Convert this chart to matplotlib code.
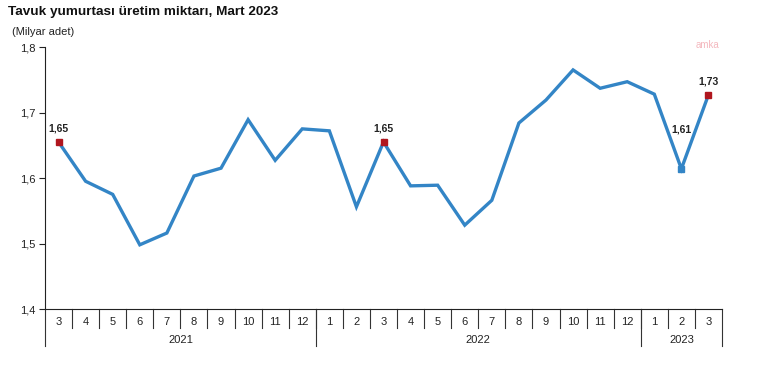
import matplotlib
matplotlib.use('Agg')
import matplotlib.pyplot as plt
import matplotlib.transforms as mtransforms
import numpy as np

plt.rcParams['font.family'] = ['Liberation Sans', 'DejaVu Sans']

months = ['3', '4', '5', '6', '7', '8', '9', '10', '11', '12',
          '1', '2', '3', '4', '5', '6', '7', '8', '9', '10', '11', '12',
          '1', '2', '3']
years = ['2021', '2022', '2023']
year_counts = [10, 12, 3]
production = [1.655, 1.595, 1.575, 1.498, 1.516, 1.603, 1.615, 1.689, 1.627, 1.675,
              1.672, 1.556, 1.655, 1.588, 1.589, 1.528, 1.566, 1.684, 1.719, 1.765,
              1.737, 1.747, 1.728, 1.614, 1.727]
# labelled points: index, text
labelled = [(0, '1,65'), (12, '1,65'), (23, '1,61'), (24, '1,73')]

line_color = '#3385C6'
red = '#B0161E'

fig = plt.figure(figsize=(7.67, 3.66), dpi=100)
ax = fig.add_axes([45/767, 1-309/366, (722-45)/767, (309-47)/366])

x = np.arange(len(months))
ax.plot(x, production, color=line_color, lw=2.4, zorder=2, solid_joinstyle='miter')

for i, txt in labelled:
    c = line_color if i == 23 else red
    ax.plot(x[i], production[i], marker='s', ms=5, color=c, mec=c, zorder=3)
    if i == 23:
        ax.annotate(txt, (x[i], production[i]), xytext=(0, 28), textcoords='offset points',
                    ha='center', va='center', fontsize=7.5, fontweight='bold', color='#222222')
    else:
        ax.annotate(txt, (x[i], production[i]), xytext=(0, 6), textcoords='offset points',
                    ha='center', va='bottom', fontsize=7.5, fontweight='bold', color='#222222')

ax.set_xlim(-0.5, len(months) - 0.5)
ax.set_ylim(1.4, 1.8)
ax.set_yticks(np.arange(1.4, 1.81, 0.1))
ax.set_yticklabels([f'{v:.1f}'.replace('.', ',') for v in np.arange(1.4, 1.81, 0.1)])
ax.tick_params(axis='y', length=4, width=0.8, labelsize=8, pad=3, colors='#222222')

ax.set_xticks(x)
ax.set_xticklabels(months, fontsize=8, color='#222222')
ax.tick_params(axis='x', length=0, pad=6)

for s in ['top', 'right']:
    ax.spines[s].set_visible(False)
ax.spines['left'].set_color('#222222')
ax.spines['bottom'].set_color('#222222')
ax.spines['left'].set_linewidth(0.8)
ax.spines['bottom'].set_linewidth(0.8)

# category separators below the axis
trans = mtransforms.blended_transform_factory(ax.transData, ax.transAxes)
month_depth = -(328-309)/262
year_depth = -(346-309)/262
for b in np.arange(0.5, len(months) - 1, 1.0):
    ax.plot([b, b], [0, month_depth], transform=trans, color='#333333', lw=0.8, clip_on=False)

bounds = np.concatenate([[0], np.cumsum(year_counts)]) - 0.5
for b in bounds:
    ax.plot([b, b], [0, year_depth], transform=trans, color='#333333', lw=0.8, clip_on=False)
for j, yr in enumerate(years):
    mid = (bounds[j] + bounds[j+1]) / 2
    ax.text(mid, -(340-309)/262, yr, transform=trans, ha='center', va='center',
            fontsize=8, color='#222222')

fig.text(8/767, 1-12/366, 'Tavuk yumurtası üretim miktarı, Mart 2023', fontsize=9.7,
         fontweight='bold', ha='left', va='center', color='#111111')
fig.text(12/767, 1-32/366, '(Milyar adet)', fontsize=8, ha='left', va='center', color='#222222')
fig.text(708/767, 1-45/366, 'amka', fontsize=7, ha='center', va='center', color='#F4B8BE')

fig.savefig('out.png', dpi=100)
